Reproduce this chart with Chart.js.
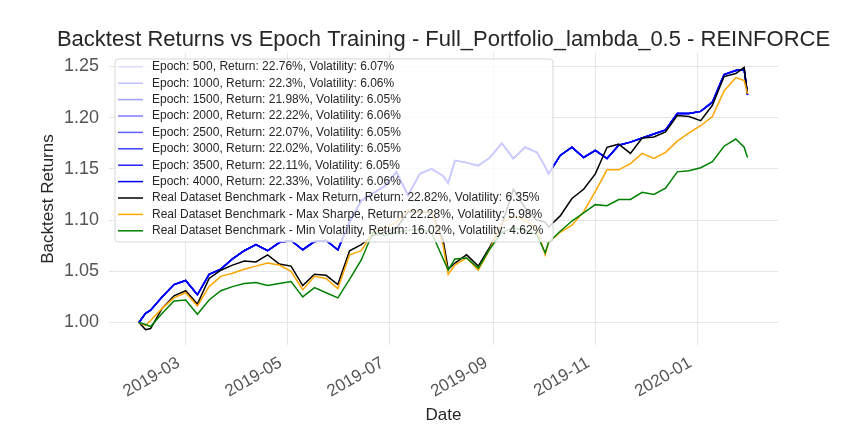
<!DOCTYPE html>
<html>
<head>
<meta charset="utf-8">
<title>Backtest Returns vs Epoch Training</title>
<script src="https://cdn.jsdelivr.net/npm/chart.js@4.4.1/dist/chart.umd.min.js"></script>
<style>
  html, body { margin: 0; padding: 0; background: #fff; }
  canvas { display: block; }
</style>
</head>
<body>
<canvas id="chart" width="864" height="432"></canvas>
<script>
// sampled trading dates (roughly weekly, plus a few extra dips / the final days)
const dates = [
  "2019-02-01", "2019-02-05", "2019-02-08", "2019-02-15", "2019-02-22",
  "2019-03-01", "2019-03-08", "2019-03-15", "2019-03-22", "2019-03-29",
  "2019-04-05", "2019-04-12", "2019-04-19", "2019-04-26",
  "2019-05-03", "2019-05-10", "2019-05-17", "2019-05-24", "2019-05-31",
  "2019-06-07", "2019-06-14", "2019-06-21", "2019-06-28",
  "2019-07-05", "2019-07-12", "2019-07-19", "2019-07-26",
  "2019-08-02", "2019-08-05", "2019-08-09", "2019-08-16", "2019-08-23", "2019-08-30",
  "2019-09-06", "2019-09-13", "2019-09-20", "2019-09-27",
  "2019-10-02", "2019-10-04", "2019-10-11", "2019-10-18", "2019-10-25",
  "2019-11-01", "2019-11-08", "2019-11-15", "2019-11-22", "2019-11-29",
  "2019-12-06", "2019-12-13", "2019-12-20", "2019-12-27",
  "2020-01-03", "2020-01-10", "2020-01-17", "2020-01-24", "2020-01-29", "2020-01-31"
];

// epoch runs (they all lie on top of each other in the picture)
const epochs = [500, 1000, 1500, 2000, 2500, 3000, 3500, 4000];
const epochReturns = ["22.76", "22.3", "21.98", "22.22", "22.07", "22.02", "22.11", "22.33"];
const epochVols = ["6.07", "6.06", "6.05", "6.06", "6.05", "6.05", "6.05", "6.06"];
const epochValues = [
  1.000, 1.009, 1.012, 1.025, 1.037,
  1.041, 1.027, 1.047, 1.052, 1.062,
  1.070, 1.076, 1.070, 1.078,
  1.080, 1.071, 1.079, 1.080, 1.071,
  1.098, 1.119, 1.126, 1.133,
  1.147, 1.124, 1.145, 1.150,
  1.143, 1.136, 1.158, 1.156, 1.153, 1.161,
  1.175, 1.160, 1.171, 1.166,
  1.152, 1.145, 1.163, 1.171, 1.161,
  1.168, 1.160, 1.173, 1.176, 1.180,
  1.184, 1.188, 1.204, 1.204,
  1.206, 1.215, 1.242, 1.246, 1.247, 1.222
];

// benchmarks
const benchNames = ["Max Return", "Max Sharpe", "Min Volatility"];
const benchReturns = ["22.82", "22.28", "16.02"];
const benchVols = ["6.35", "5.98", "4.62"];
const maxReturnValues = [
  1.000, 0.993, 0.994, 1.014, 1.026,
  1.031, 1.018, 1.043, 1.051, 1.056,
  1.060, 1.059, 1.066, 1.057,
  1.055, 1.036, 1.047, 1.046, 1.037,
  1.070, 1.076, 1.085, 1.088,
  1.092, 1.108, 1.108, 1.107,
  1.080, 1.052, 1.058, 1.066, 1.055, 1.074,
  1.095, 1.130, 1.112, 1.100,
  1.098, 1.093, 1.104, 1.121, 1.130,
  1.145, 1.171, 1.174, 1.165, 1.180,
  1.181, 1.186, 1.202, 1.201,
  1.197, 1.212, 1.240, 1.243, 1.249, 1.223
];
const maxSharpeValues = [
  1.000, 0.997, 1.002, 1.014, 1.024,
  1.029, 1.016, 1.035, 1.045, 1.048,
  1.052, 1.055, 1.058, 1.056,
  1.050, 1.032, 1.045, 1.043, 1.033,
  1.066, 1.070, 1.088, 1.092,
  1.098, 1.110, 1.108, 1.108,
  1.075, 1.047, 1.056, 1.063, 1.051, 1.072,
  1.097, 1.104, 1.100, 1.092,
  1.066, 1.078, 1.088, 1.095, 1.108,
  1.128, 1.149, 1.149, 1.155, 1.165,
  1.160, 1.166, 1.177, 1.185,
  1.192, 1.201, 1.226, 1.239, 1.236, 1.223
];
const minVolValues = [
  1.000, 0.998, 0.996, 1.009, 1.021,
  1.022, 1.008, 1.022, 1.031, 1.035,
  1.038, 1.039, 1.036, 1.038,
  1.040, 1.025, 1.034, 1.029, 1.024,
  1.042, 1.061, 1.088, 1.085,
  1.088, 1.090, 1.091, 1.088,
  1.062, 1.051, 1.062, 1.063, 1.053, 1.072,
  1.088, 1.092, 1.090, 1.086,
  1.068, 1.078, 1.089, 1.099, 1.107,
  1.115, 1.114, 1.120, 1.120, 1.127,
  1.125, 1.131, 1.147, 1.148,
  1.151, 1.157, 1.172, 1.179, 1.171, 1.161
];

const yTicks = [1.00, 1.05, 1.10, 1.15, 1.20, 1.25];
const xTicks = ["2019-03-01", "2019-05-01", "2019-07-01", "2019-09-01", "2019-11-01", "2020-01-01"];
const chartTitle = "Backtest Returns vs Epoch Training - Full_Portfolio_lambda_0.5 - REINFORCE";

const FONT = "Arial, 'Liberation Sans', sans-serif";
Chart.defaults.font.family = FONT;

function toPoints(values) {
  return dates.map((d, i) => ({ x: Date.parse(d), y: values[i] }));
}

const datasets = [];
epochs.forEach((ep, i) => {
  const alpha = ep / 4000;
  datasets.push({
    label: `Epoch: ${ep}, Return: ${epochReturns[i]}%, Volatility: ${epochVols[i]}%`,
    data: toPoints(epochValues),
    borderColor: `rgba(0, 0, 255, ${alpha})`,
    order: 20 - i,
  });
});
const benchColors = ["#000000", "#ffa500", "#008000"];
[maxReturnValues, maxSharpeValues, minVolValues].forEach((vals, i) => {
  datasets.push({
    label: `Real Dataset Benchmark - ${benchNames[i]}, Return: ${benchReturns[i]}%, Volatility: ${benchVols[i]}%`,
    data: toPoints(vals),
    borderColor: benchColors[i],
    order: 3 - i,
  });
});

// title centred over the plot area (the built-in one squeezes long text)
const plotTitle = {
  id: "plotTitle",
  afterDraw(chart) {
    const ctx = chart.ctx;
    const area = chart.chartArea;
    ctx.save();
    ctx.font = "22px " + FONT;
    ctx.fillStyle = "#262626";
    ctx.textAlign = "center";
    ctx.textBaseline = "middle";
    ctx.fillText(chartTitle, (area.left + area.right) / 2, 40);
    ctx.restore();
  },
};

// legend box drawn inside the plot, over the lines (semi transparent like matplotlib)
const boxLegend = {
  id: "boxLegend",
  afterDatasetsDraw(chart) {
    const ctx = chart.ctx;
    const area = chart.chartArea;
    const x0 = area.left + 6, y0 = area.top + 6;
    const w = 438, h = 183, rowH = 16.4;
    ctx.save();
    ctx.beginPath();
    ctx.roundRect(x0, y0, w, h, 3);
    ctx.fillStyle = "rgba(255,255,255,0.8)";
    ctx.fill();
    ctx.strokeStyle = "rgba(204,204,204,0.8)";
    ctx.lineWidth = 1;
    ctx.stroke();
    ctx.font = "12px " + FONT;
    ctx.textBaseline = "middle";
    ctx.textAlign = "left";
    chart.data.datasets.forEach((ds, i) => {
      const y = y0 + 7.8 + rowH * i;
      ctx.beginPath();
      ctx.moveTo(x0 + 3, y);
      ctx.lineTo(x0 + 28, y);
      ctx.strokeStyle = ds.borderColor;
      ctx.lineWidth = 1.5;
      ctx.stroke();
      ctx.fillStyle = "#262626";
      ctx.fillText(ds.label, x0 + 37, y);
    });
    ctx.restore();
  },
};

new Chart(document.getElementById("chart"), {
  type: "line",
  data: { datasets: datasets },
  options: {
    responsive: false,
    animation: false,
    elements: {
      line: { borderWidth: 1.5, tension: 0, fill: false },
      point: { radius: 0 },
    },
    layout: { padding: { left: 0, right: 86, top: 53, bottom: 0 } },
    plugins: {
      legend: { display: false },
      tooltip: { enabled: false },
      title: { display: false },
    },
    scales: {
      x: {
        type: "linear",
        min: Date.UTC(2019, 0, 14, 3),
        max: Date.UTC(2020, 1, 18, 6),
        afterBuildTicks: (scale) => {
          scale.ticks = xTicks.map((d) => ({ value: Date.parse(d) }));
        },
        afterFit: (scale) => { scale.height = 432 - 345; },
        border: { display: false },
        grid: { color: "#e6e6e6", lineWidth: 1, drawTicks: false },
        ticks: {
          autoSkip: false,
          maxRotation: 30,
          minRotation: 30,
          padding: 8,
          labelOffset: -7,
          color: "#555555",
          font: { size: 17 },
          callback: (v) => new Date(v).toISOString().slice(0, 7),
        },
        title: {
          display: true,
          text: "Date",
          color: "#262626",
          font: { size: 17 },
          padding: { top: 0, bottom: 6 },
        },
      },
      y: {
        min: 0.978,
        max: 1.263,
        afterBuildTicks: (scale) => {
          scale.ticks = yTicks.map((v) => ({ value: v }));
        },
        afterFit: (scale) => { scale.width = 109; },
        border: { display: false },
        grid: { color: "#e6e6e6", lineWidth: 1, drawTicks: false },
        ticks: {
          padding: 10,
          color: "#555555",
          font: { size: 18 },
          callback: (v) => Number(v).toFixed(2),
        },
        title: {
          display: true,
          text: "Backtest Returns",
          color: "#262626",
          font: { size: 17 },
          padding: { top: 38, bottom: 0 },
        },
      },
    },
  },
  plugins: [boxLegend, plotTitle],
});
</script>
</body>
</html>
